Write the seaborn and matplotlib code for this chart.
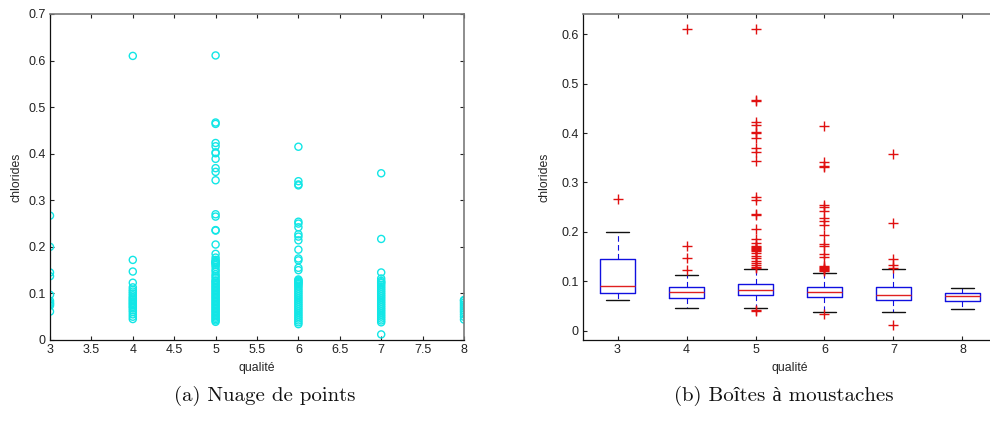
import matplotlib
matplotlib.use("Agg")
import matplotlib.pyplot as plt
import seaborn as sns
import pandas as pd

# Chlorides observed for each wine quality grade
qualities = [3, 4, 5, 6, 7, 8]

chl_q3 = [0.061, 0.074, 0.077, 0.080, 0.084, 0.097, 0.137, 0.145, 0.200, 0.267]
chl_q4 = [0.045, 0.050, 0.055, 0.060, 0.064, 0.068, 0.071, 0.074, 0.077, 0.080,
          0.083, 0.086, 0.089, 0.092, 0.096, 0.100, 0.104, 0.108, 0.113, 0.123,
          0.147, 0.172, 0.610]
chl_q5 = [0.039, 0.042, 0.045, 0.048, 0.051, 0.054, 0.057, 0.060, 0.063, 0.066,
          0.069, 0.072, 0.075, 0.078, 0.081, 0.084, 0.087, 0.090, 0.093, 0.096,
          0.099, 0.102, 0.105, 0.108, 0.111, 0.114, 0.117, 0.120, 0.123, 0.126,
          0.128, 0.133, 0.137, 0.141, 0.147, 0.151, 0.157, 0.161, 0.164, 0.166,
          0.167, 0.169, 0.172, 0.177, 0.185, 0.205, 0.235, 0.236, 0.265, 0.270,
          0.343, 0.361, 0.369, 0.389, 0.401, 0.403, 0.416, 0.423, 0.464, 0.467,
          0.611]
chl_q6 = [0.034, 0.038, 0.042, 0.046, 0.050, 0.054, 0.058, 0.062, 0.066, 0.070,
          0.074, 0.078, 0.082, 0.086, 0.090, 0.094, 0.098, 0.102, 0.106, 0.110,
          0.114, 0.117, 0.120, 0.122, 0.124, 0.126, 0.128, 0.130, 0.150, 0.155,
          0.171, 0.175, 0.194, 0.214, 0.222, 0.227, 0.242, 0.250, 0.254, 0.332,
          0.334, 0.341, 0.415]
chl_q7 = [0.012, 0.038, 0.042, 0.046, 0.050, 0.054, 0.058, 0.062, 0.066, 0.070,
          0.074, 0.078, 0.082, 0.086, 0.090, 0.094, 0.098, 0.102, 0.106, 0.110,
          0.114, 0.118, 0.122, 0.124, 0.127, 0.132, 0.145, 0.217, 0.358]
chl_q8 = [0.044, 0.050, 0.055, 0.060, 0.064, 0.068, 0.072, 0.076, 0.080, 0.084,
          0.086]

# Box-plot summary per quality grade
box_q1 = [0.077, 0.067, 0.073, 0.068, 0.0615, 0.060]
box_med = [0.0905, 0.079, 0.0815, 0.078, 0.073, 0.070]
box_q3 = [0.144, 0.089, 0.0945, 0.088, 0.088, 0.0755]
whisk_lo = [0.061, 0.045, 0.045, 0.038, 0.038, 0.044]
whisk_hi = [0.200, 0.113, 0.124, 0.1175, 0.124, 0.086]

x_ticks_scatter = [3, 3.5, 4, 4.5, 5, 5.5, 6, 6.5, 7, 7.5, 8]
y_ticks_scatter = [0, 0.1, 0.2, 0.3, 0.4, 0.5, 0.6, 0.7]
y_ticks_box = [0, 0.1, 0.2, 0.3, 0.4, 0.5, 0.6]

groups = [chl_q3, chl_q4, chl_q5, chl_q6, chl_q7, chl_q8]

sns.set_style("ticks")
plt.rcParams["font.family"] = ["Liberation Sans", "DejaVu Sans"]

CYAN = "#12e6e6"
TICK_FS = 9.0
LABEL_FS = 8.8

rows = []
for q, vals in zip(qualities, groups):
    for v in vals:
        rows.append({"qualite": q, "chlorides": v})
df = pd.DataFrame(rows)

fig = plt.figure(figsize=(9.9, 4.21), dpi=100)
axA = fig.add_axes([50 / 990, 81 / 421, 414 / 990, 326 / 421])
axB = fig.add_axes([583 / 990, 81 / 421, 414 / 990, 326 / 421])


def style_axes(ax):
    for side in ("left", "bottom"):
        ax.spines[side].set_color("#111111")
        ax.spines[side].set_linewidth(0.9)
    for side in ("top", "right"):
        ax.spines[side].set_visible(True)
        ax.spines[side].set_color("#7a7a7a")
        ax.spines[side].set_linewidth(1.2)
    ax.tick_params(direction="in", top=True, right=True, length=3,
                   width=0.8, labelsize=TICK_FS, colors="#222222", pad=3)


# (a) scatter of every sample
sns.scatterplot(data=df, x="qualite", y="chlorides", ax=axA, marker="o",
                s=26, facecolor="none", edgecolor=CYAN, linewidth=1.0,
                legend=False)
axA.set_xlim(3, 8)
axA.set_ylim(0, 0.7)
axA.set_xticks(x_ticks_scatter)
axA.set_xticklabels([f"{t:g}" for t in x_ticks_scatter])
axA.set_yticks(y_ticks_scatter)
axA.set_yticklabels([f"{t:g}" for t in y_ticks_scatter])
axA.set_xlabel("qualité", fontsize=LABEL_FS, labelpad=4)
axA.set_ylabel("chlorides", fontsize=LABEL_FS, labelpad=4)
style_axes(axA)

# (b) box plots, outliers are the samples beyond the whiskers
stats = []
for i, vals in enumerate(groups):
    stats.append({
        "q1": box_q1[i], "med": box_med[i], "q3": box_q3[i],
        "whislo": whisk_lo[i], "whishi": whisk_hi[i],
        "fliers": [v for v in vals if v < whisk_lo[i] or v > whisk_hi[i]],
    })
axB.bxp(stats, positions=range(len(qualities)), widths=0.5, capwidths=0.33,
        boxprops=dict(color="#1010e0", linewidth=1.0),
        medianprops=dict(color="#e02020", linewidth=1.0),
        whiskerprops=dict(color="#1010e0", linewidth=0.8, linestyle=(0, (5, 3))),
        capprops=dict(color="#111111", linewidth=1.0),
        flierprops=dict(marker="+", markeredgecolor="#e01010", markersize=7,
                        markeredgewidth=1.0, linestyle="none"))
axB.set_xlim(-0.5, len(qualities) - 0.5)
axB.set_ylim(-0.019, 0.641)
axB.set_xticks(range(len(qualities)))
axB.set_xticklabels([str(q) for q in qualities])
axB.set_yticks(y_ticks_box)
axB.set_yticklabels([f"{t:g}" for t in y_ticks_box])
axB.set_xlabel("qualité", fontsize=LABEL_FS, labelpad=4)
axB.set_ylabel("chlorides", fontsize=LABEL_FS, labelpad=8)
style_axes(axB)

cap_font = dict(family=["cmr10", "Liberation Serif"], fontsize=15,
                ha="center", va="center", color="#111111")
fig.text(265 / 990, 1 - 396 / 421, "(a) Nuage de points", **cap_font)
fig.text(784 / 990, 1 - 396 / 421, "(b) Boîtes à moustaches", **cap_font)

fig.savefig("out.png", dpi=100)
